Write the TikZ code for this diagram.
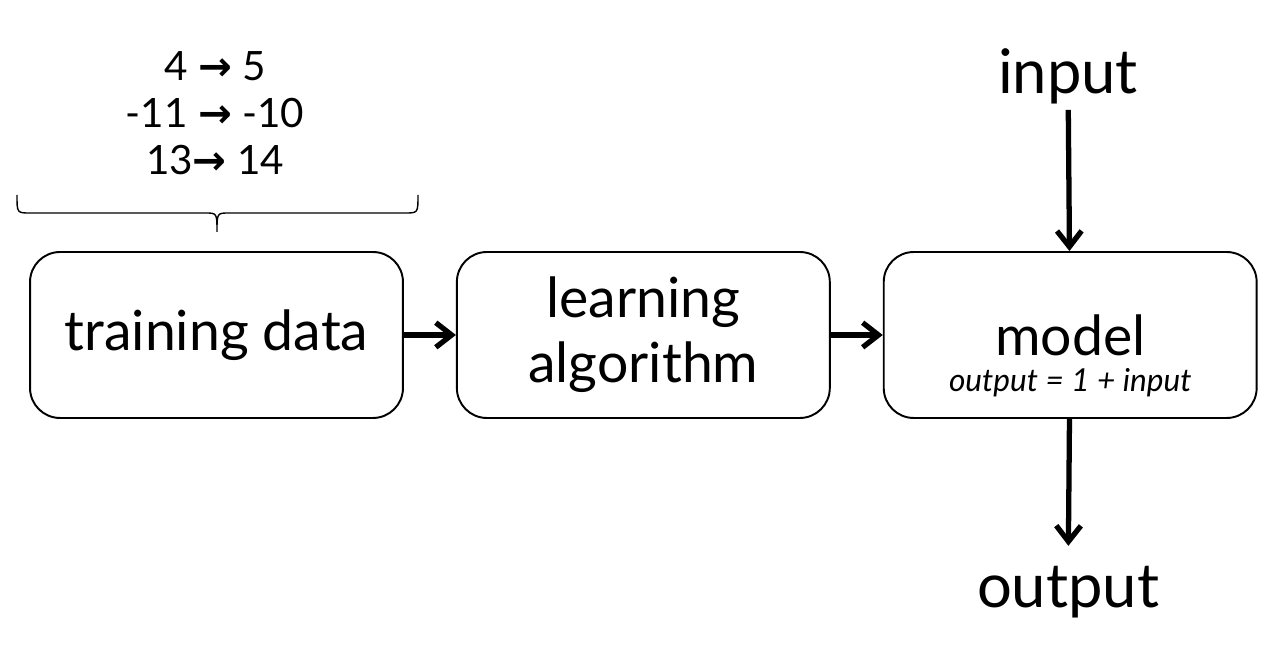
\documentclass[tikz,border=0pt]{standalone}
\usepackage{fontspec}
\setmainfont{Lato}
\newfontfamily\arrowfont{DejaVu Sans}
\usetikzlibrary{arrows.meta,positioning,calc}

\begin{document}
\begin{tikzpicture}[x=0.02cm,y=-0.02cm,>={Straight Barb[length=9pt,width=14pt]},
    node distance=1.04cm,
    block/.style={draw,line width=1.1pt,rounded corners=0.6cm,minimum width=7.46cm,
      minimum height=3.32cm,align=center,font=\fontsize{31.5}{37}\selectfont},
    big text/.style={font=\fontsize{35}{40}\selectfont},
    flow/.style={->,line width=3pt}]
  \useasboundingbox (0,0) rectangle (1269,671);

  \node[block]              (train) at (216.5,335) {training data};
  \node[block,right=of train] (learn) {learning\\algorithm};
  \node[block,right=of learn] (model) {model};
  \node[font=\fontsize{18}{20}\selectfont\itshape] (rule)
       at ([yshift=-0.96cm]model.center) {output = 1 + input};

  \node[big text] (input)  at (1068,76)  {input};
  \node[big text] (output) at (1068,592) {output};

  % examples fed to the learner
  \node[align=center,font=\fontsize{23}{26.7}\selectfont] (data) at (215,113)
       {4 {\arrowfont\bfseries →} 5\\-11 {\arrowfont\bfseries →} -10\\13{\arrowfont\bfseries →} 14};
  \coordinate (bl)  at (17,195);
  \coordinate (br)  at (418,195);
  \coordinate (tip) at (217,232);
  \draw[line width=0.8pt] (bl) .. controls ($(bl)+(0,18)$) .. ($(bl)+(13,18)$)
       -- ($(tip)+(-12,-19)$) .. controls ($(tip)+(0,-19)$) .. (tip)
       .. controls ($(tip)+(0,-19)$) .. ($(tip)+(12,-19)$)
       -- ($(br)+(-13,18)$) .. controls ($(br)+(0,18)$) .. (br);

  \draw[flow] (train) -- (learn);
  \draw[flow] (learn) -- (model);
  \draw[flow] (input) -- (model);
  \draw[flow,shorten >=8pt] (model) -- (output);
\end{tikzpicture}
\end{document}
